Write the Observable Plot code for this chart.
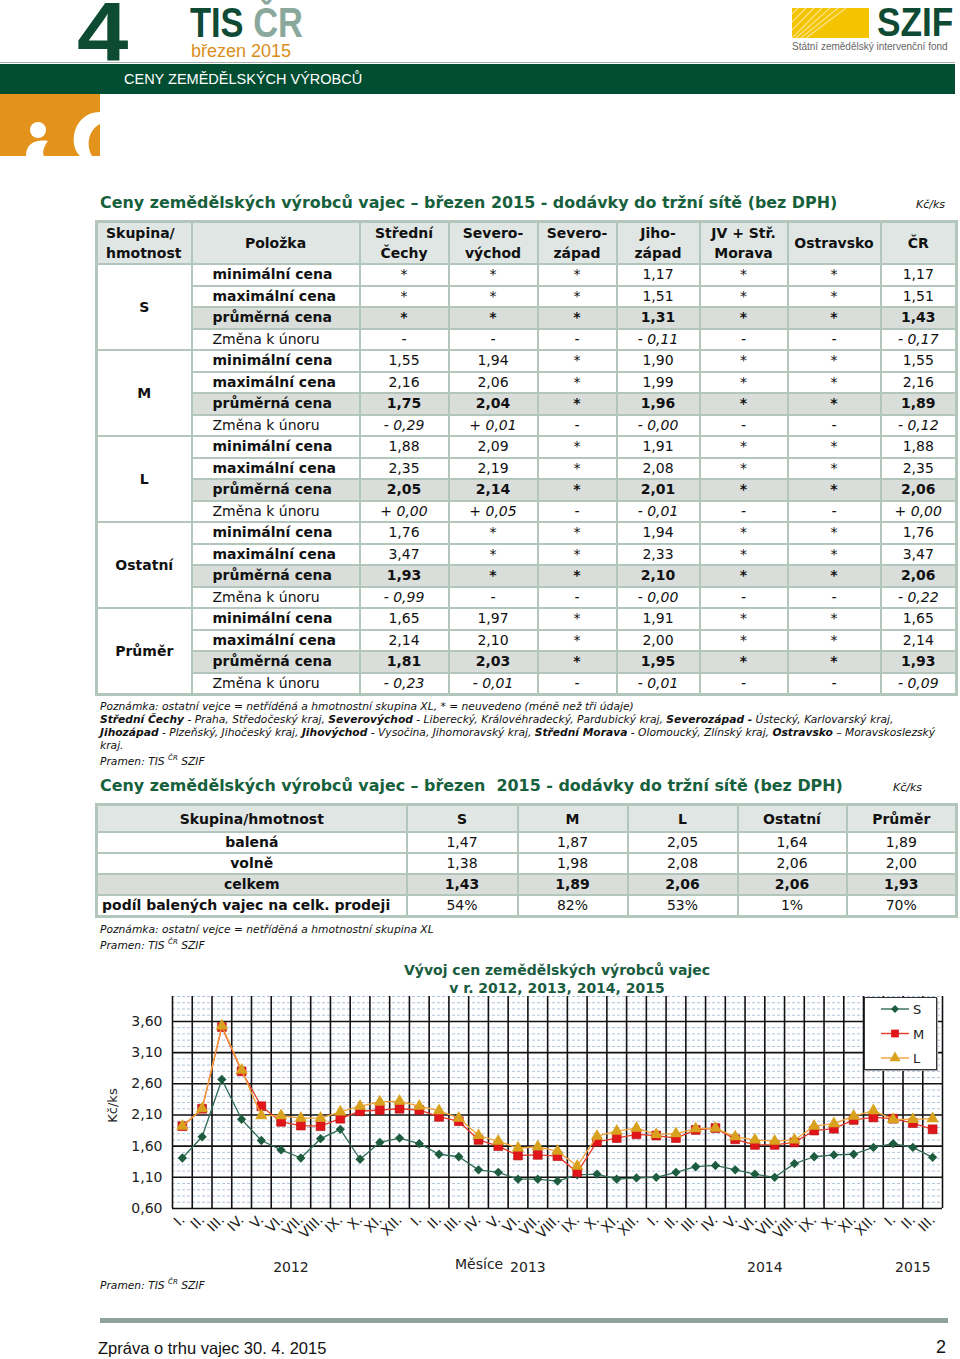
<!DOCTYPE html>
<html><head><meta charset="utf-8">
<script src="https://cdn.jsdelivr.net/npm/d3@7"></script>
<script src="https://cdn.jsdelivr.net/npm/@observablehq/plot@0.6"></script>
<style>
body{margin:0;background:#fff;}
#page{position:relative;width:960px;height:1359px;overflow:hidden;font-family:"DejaVu Sans",Verdana,sans-serif;color:#111;}
.abs{position:absolute;white-space:nowrap;}
.title{font-weight:bold;color:#17603c;font-size:15.9px;line-height:20px;}
.unit{font-style:italic;font-size:11px;}
table{border-collapse:collapse;table-layout:fixed;position:absolute;}
td,th{border:2px solid #b3c6bc;padding:0;text-align:center;overflow:hidden;white-space:nowrap;}
#t1{left:95px;top:220px;width:860px;font-size:14px;border:3px solid #b3c6bc;}
#t1 th{background:#e0e6e3;height:40px;line-height:20px;font-weight:bold;}
#t1 td{height:19.5px;line-height:19px;}
#t1 td.lab{text-align:left;padding-left:20px;}
#t1 tr.avg td{background:#d9dedb;font-weight:bold;}
#t1 tr.avg td.grp{background:#fff;}
#t1 td.grp{font-weight:bold;background:#fff;}
#t1 tr.chg td{font-style:italic;}
#t1 tr.chg td.lab, #t1 tr.chg td.grp{font-style:normal;}
#t1 tr.mm td.lab{font-weight:bold;}
#t2{left:95px;top:803px;width:860px;font-size:14px;border:3px solid #b3c6bc;}
#t2 th{background:#e0e6e3;height:25px;font-weight:bold;}
#t2 td{height:19px;line-height:19px;}
#t2 td.lab{font-weight:bold;}
#t2 tr.avg td{background:#d9dedb;font-weight:bold;}
.note{font-size:10.7px;font-style:italic;line-height:13px;}
sup{font-size:7px;}
</style></head>
<body><div id="page">
<!-- header -->
<div class="abs" style="left:0;top:62px;width:955px;height:1px;background:#9fb0a8"></div>
<div class="abs" style="left:0;top:64px;width:955px;height:30px;background:#004d31"></div>
<div class="abs" style="left:124px;top:70px;color:#fff;font-family:'Liberation Sans',Arial,sans-serif;font-size:14.5px;line-height:18px;">CENY ZEMĚDĚLSKÝCH VÝROBCŮ</div>
<div class="abs" style="left:77px;top:0px;color:#0d4b33;font-family:'Liberation Sans',Arial,sans-serif;font-weight:bold;font-size:84px;line-height:64px;transform:scaleX(1.1);transform-origin:left top;">4</div>
<div class="abs" style="left:190px;top:4px;font-family:'Liberation Sans',Arial,sans-serif;font-weight:bold;font-size:42px;line-height:38px;transform:scaleX(0.82);transform-origin:left top;"><span style="color:#0e4a34">TIS</span> <span style="color:#8aa89c">ČR</span></div>
<div class="abs" style="left:191px;top:42px;color:#d98e1c;font-family:'Liberation Sans',Arial,sans-serif;font-size:18px;line-height:19px;">březen 2015</div>
<svg class="abs" style="left:0;top:94px" width="100" height="62">
<rect width="100" height="62" fill="#e3931c"/>
<circle cx="38" cy="36" r="8" fill="#fff"/>
<path d="M26,62 C26,49 36,45 48,47 C44,52 42,58 44,62 Z" fill="#fff"/>
<path d="M100,18 C82,18 72,34 74,50 C75,56 78,60 80,62 L92,62 C86,52 88,36 100,30 Z" fill="#fff"/>
</svg>
<svg class="abs" style="left:792px;top:8px" width="78" height="31">
<rect width="77" height="30" fill="#f4c400"/>
<g stroke="#fbe48a" stroke-width="1.2">
<line x1="0" y1="30" x2="30" y2="0"/><line x1="4" y1="30" x2="38" y2="0"/><line x1="9" y1="30" x2="46" y2="0"/>
<line x1="14" y1="30" x2="54" y2="0"/><line x1="0" y1="22" x2="22" y2="0"/><line x1="0" y1="14" x2="14" y2="0"/><line x1="0" y1="6" x2="6" y2="0"/>
</g></svg>
<div class="abs" style="left:877px;top:4px;color:#0e4a34;font-family:'Liberation Sans',Arial,sans-serif;font-weight:bold;font-size:41px;line-height:36px;transform:scaleX(0.86);transform-origin:left top;">SZIF</div>
<div class="abs" style="left:792px;top:41px;color:#666;font-family:'Liberation Sans',Arial,sans-serif;font-size:10px;line-height:12px;">Státní zemědělský intervenční fond</div>

<!-- table 1 -->
<div class="abs title" style="left:100px;top:193px;">Ceny zemědělských výrobců vajec – březen 2015 - dodávky do tržní sítě (bez DPH)</div>
<div class="abs unit" style="left:916px;top:198px;">Kč/ks</div>
<table id="t1"></table>
<div class="abs note" style="left:100px;top:700px;">Poznámka: ostatní vejce = netříděná a hmotnostní skupina XL, * = neuvedeno (méně než tři údaje)<br><b>Střední Čechy</b> - Praha, Středočeský kraj, <b>Severovýchod</b> - Liberecký, Královéhradecký, Pardubický kraj, <b>Severozápad -</b> Ústecký, Karlovarský kraj,<br><b>Jihozápad</b> - Plzeňský, Jihočeský kraj, <b>Jihovýchod</b> - Vysočina, Jihomoravský kraj, <b>Střední Morava</b> - Olomoucký, Zlínský kraj, <b>Ostravsko</b> – Moravskoslezský<br>kraj.<br>Pramen: TIS <sup>ČR</sup> SZIF</div>

<!-- table 2 -->
<div class="abs title" style="left:100px;top:776px;">Ceny zemědělských výrobců vajec – březen&nbsp; 2015 - dodávky do tržní sítě (bez DPH)</div>
<div class="abs unit" style="left:893px;top:781px;">Kč/ks</div>
<table id="t2"></table>
<div class="abs note" style="left:100px;top:923px;">Poznámka: ostatní vejce = netříděná a hmotnostní skupina XL<br>Pramen: TIS <sup>ČR</sup> SZIF</div>

<!-- chart -->
<div id="chart" class="abs" style="left:95px;top:955px;"></div>
<div class="abs" style="left:357px;top:961px;width:400px;text-align:center;font-weight:bold;color:#1a5c3f;font-size:14px;line-height:18px;">Vývoj cen zemědělských výrobců vajec<br>v r. 2012, 2013, 2014, 2015</div>
<div class="abs" style="left:92px;top:1098px;width:40px;text-align:center;font-size:13px;transform:rotate(-90deg);color:#222;">Kč/ks</div>
<div class="abs" style="left:455px;top:1256px;font-size:14px;color:#222;">Měsíce</div>
<div id="legend" class="abs" style="left:864px;top:997px;width:71px;height:71px;border:1px solid #333;background:#fff;box-shadow:1px 1px 0 #aaa;"></div>
<div class="abs note" style="left:100px;top:1276px;">Pramen: TIS <sup>ČR</sup> SZIF</div>

<!-- footer -->
<div class="abs" style="left:100px;top:1318px;width:848px;height:5px;background:#8fa39a"></div>
<div class="abs" style="left:98px;top:1339px;font-family:'Liberation Sans',Arial,sans-serif;font-size:16.5px;">Zpráva o trhu vajec 30. 4. 2015</div>
<div class="abs" style="left:936px;top:1337px;font-family:'Liberation Sans',Arial,sans-serif;font-size:18px;">2</div>
</div>
<script>
// ---------- Table 1 data ----------
const regions = ["Střední<br>Čechy","Severo-<br>východ","Severo-<br>západ","Jiho-<br>západ","JV + Stř.<br>Morava","Ostravsko","ČR"];
const groups = ["S","M","L","Ostatní","Průměr"];
const items = ["minimální cena","maximální cena","průměrná cena","Změna k únoru"];
const t1S = [
  ["*","*","*","1,17","*","*","1,17"],
  ["*","*","*","1,51","*","*","1,51"],
  ["*","*","*","1,31","*","*","1,43"],
  ["-","-","-","- 0,11","-","-","- 0,17"]];
const t1M = [
  ["1,55","1,94","*","1,90","*","*","1,55"],
  ["2,16","2,06","*","1,99","*","*","2,16"],
  ["1,75","2,04","*","1,96","*","*","1,89"],
  ["- 0,29","+ 0,01","-","- 0,00","-","-","- 0,12"]];
const t1L = [
  ["1,88","2,09","*","1,91","*","*","1,88"],
  ["2,35","2,19","*","2,08","*","*","2,35"],
  ["2,05","2,14","*","2,01","*","*","2,06"],
  ["+ 0,00","+ 0,05","-","- 0,01","-","-","+ 0,00"]];
const t1O = [
  ["1,76","*","*","1,94","*","*","1,76"],
  ["3,47","*","*","2,33","*","*","3,47"],
  ["1,93","*","*","2,10","*","*","2,06"],
  ["- 0,99","-","-","- 0,00","-","-","- 0,22"]];
const t1P = [
  ["1,65","1,97","*","1,91","*","*","1,65"],
  ["2,14","2,10","*","2,00","*","*","2,14"],
  ["1,81","2,03","*","1,95","*","*","1,93"],
  ["- 0,23","- 0,01","-","- 0,01","-","-","- 0,09"]];
const t1Data = [t1S,t1M,t1L,t1O,t1P];

// ---------- Table 2 data ----------
const t2Cols = ["S","M","L","Ostatní","Průměr"];
const t2Rows = ["balená","volně","celkem","podíl balených vajec na celk. prodeji"];
const t2Balena = ["1,47","1,87","2,05","1,64","1,89"];
const t2Volne = ["1,38","1,98","2,08","2,06","2,00"];
const t2Celkem = ["1,43","1,89","2,06","2,06","1,93"];
const t2Podil = ["54%","82%","53%","1%","70%"];

// ---------- Chart data ----------
const monthLabels = ["I.","II.","III.","IV.","V.","VI.","VII.","VIII.","IX.","X.","XI.","XII.",
  "I.","II.","III.","IV.","V.","VI.","VII.","VIII.","IX.","X.","XI.","XII.",
  "I.","II.","III.","IV.","V.","VI.","VII.","VIII.","IX.","X.","XI.","XII.",
  "I.","II.","III."];
const monthYears = [2012,2012,2012,2012,2012,2012,2012,2012,2012,2012,2012,2012,
  2013,2013,2013,2013,2013,2013,2013,2013,2013,2013,2013,2013,
  2014,2014,2014,2014,2014,2014,2014,2014,2014,2014,2014,2014,
  2015,2015,2015];
const seriesS = [1.41,1.75,2.67,2.03,1.69,1.54,1.41,1.72,1.87,1.39,1.66,1.73,
  1.64,1.47,1.43,1.22,1.18,1.07,1.07,1.04,1.14,1.15,1.07,1.09,
  1.10,1.18,1.27,1.29,1.22,1.15,1.10,1.32,1.43,1.46,1.47,1.58,
  1.64,1.58,1.42];
const seriesM = [1.92,2.20,3.51,2.80,2.24,1.99,1.93,1.92,2.04,2.16,2.18,2.20,
  2.18,2.07,2.00,1.70,1.60,1.45,1.46,1.44,1.18,1.67,1.73,1.79,
  1.77,1.73,1.86,1.89,1.71,1.62,1.62,1.66,1.85,1.88,2.02,2.06,
  2.04,1.97,1.87];
const seriesL = [1.92,2.20,3.53,2.82,2.09,2.09,2.05,2.05,2.15,2.24,2.31,2.32,
  2.24,2.17,2.05,1.77,1.68,1.57,1.59,1.52,1.28,1.76,1.84,1.89,
  1.79,1.80,1.88,1.89,1.75,1.70,1.68,1.70,1.92,1.96,2.08,2.17,
  2.03,2.03,2.04];
const yTicks = [0.6,1.1,1.6,2.1,2.6,3.1,3.6];
const seriesNames = ["S","M","L"];

// ---------- build table 1 ----------
{
  const t = document.getElementById("t1");
  let h = `<colgroup><col style="width:95px"><col style="width:168px"><col style="width:89px"><col style="width:89px"><col style="width:79px"><col style="width:83px"><col style="width:88px"><col style="width:93px"><col style="width:76px"></colgroup>`;
  h += `<tr><th style="text-align:left;padding-left:8px">Skupina/<br>hmotnost</th><th>Položka</th>` + regions.map(r=>`<th>${r}</th>`).join("") + `</tr>`;
  groups.forEach((g,gi)=>{
    items.forEach((it,ii)=>{
      const cls = ii===2?"avg":ii===3?"chg":"mm";
      h += `<tr class="${cls}">`;
      if(ii===0) h += `<td class="grp" rowspan="4">${g}</td>`;
      h += `<td class="lab">${it}</td>` + t1Data[gi][ii].map(v=>`<td>${v}</td>`).join("") + `</tr>`;
    });
  });
  t.innerHTML = h;
}
// ---------- build table 2 ----------
{
  const t = document.getElementById("t2");
  const rows = [t2Balena,t2Volne,t2Celkem,t2Podil];
  let h = `<colgroup><col style="width:310px"><col style="width:111px"><col style="width:110px"><col style="width:110px"><col style="width:109px"><col style="width:110px"></colgroup>`;
  h += `<tr><th>Skupina/hmotnost</th>` + t2Cols.map(c=>`<th>${c}</th>`).join("") + `</tr>`;
  rows.forEach((r,ri)=>{
    h += `<tr class="${ri===2?"avg":""}"><td class="lab" style="${ri===3?"text-align:left;padding-left:4px":""}">${t2Rows[ri]}</td>` + r.map(v=>`<td>${v}</td>`).join("") + `</tr>`;
  });
  t.innerHTML = h;
}

// ---------- chart ----------
const idx = d3.range(monthLabels.length);
const recs = seriesNames.flatMap((s,si)=>{
  const vals = [seriesS,seriesM,seriesL][si];
  return vals.map((v,i)=>({series:s,i,v}));
});
const yMin = 0.6, yMax = 4.0;
const minor = d3.range(7,41).map(k=>k/10).filter(v=>!yTicks.some(t=>Math.abs(t-v)<1e-9));
const bounds = d3.range(monthLabels.length+1).map(k=>k-0.5);
const yearGroups = d3.groups(idx, i=>monthYears[i]).map(([y,arr])=>({year:String(y), x:d3.mean(arr)}));
const colors = {S:"#1e5c40", M:"#e0161a", L:"#d8a21e"};
const lineColors = {S:"#2f6c55", M:"#e83a2a", L:"#f2a33a"};
const fmt = d=>d.toFixed(2).replace(".",",");

const chart = Plot.plot({
  width: 860, height: 330,
  marginLeft: 77, marginRight: 13, marginTop: 41, marginBottom: 77,
  style: {fontFamily:"DejaVu Sans, Verdana, sans-serif", fontSize:"14px", color:"#222", background:"transparent"},
  x: {type:"linear", domain:[-0.5, monthLabels.length-0.5], axis:null},
  y: {domain:[yMin,yMax], axis:null},
  marks: [
    Plot.ruleY(minor, {stroke:"#b0c2dc", strokeWidth:1, strokeDasharray:"3,2"}),
    Plot.ruleX(bounds, {y1:yMin, y2:yMax, stroke:"#111", strokeWidth:1.6}),
    Plot.ruleY(yTicks, {stroke:"#111", strokeWidth:1.6}),
    Plot.axisY(yTicks, {tickSize:0, tickPadding:10, tickFormat:fmt, fontSize:14, label:null}),
    Plot.axisX(idx, {tickSize:0, tickPadding:9, tickRotate:-45, tickFormat:i=>monthLabels[i], fontSize:14, label:null}),
    Plot.text(yearGroups, {x:"x", text:"year", frameAnchor:"bottom", dy:63, fontSize:14, fill:"#222"}),
    Plot.line(recs.filter(d=>d.series==="S"), {x:"i", y:"v", stroke:lineColors.S, strokeWidth:1.3}),
    Plot.dot(recs.filter(d=>d.series==="S"), {x:"i", y:"v", symbol:"diamond2", r:4.2, fill:colors.S, stroke:"none"}),
    Plot.line(recs.filter(d=>d.series==="M"), {x:"i", y:"v", stroke:lineColors.M, strokeWidth:1.3}),
    Plot.dot(recs.filter(d=>d.series==="M"), {x:"i", y:"v", symbol:"square", r:5, fill:colors.M, stroke:"#b01010", strokeWidth:0.6}),
    Plot.line(recs.filter(d=>d.series==="L"), {x:"i", y:"v", stroke:lineColors.L, strokeWidth:1.3}),
    Plot.dot(recs.filter(d=>d.series==="L"), {x:"i", y:"v", symbol:"triangle", r:4.6, fill:colors.L, stroke:"none"})
  ]
});
document.getElementById("chart").appendChild(chart);

// legend
{
  const sym = {S:d3.symbolDiamond2, M:d3.symbolSquare, L:d3.symbolTriangle};
  const sz = {S:40, M:60, L:55};
  let s = `<svg width="71" height="71">`;
  seriesNames.forEach((n,k)=>{
    const y = 11 + k*24.5;
    s += `<line x1="16" x2="44" y1="${y}" y2="${y}" stroke="${lineColors[n]}" stroke-width="1.4"/>`;
    s += `<path transform="translate(30,${y})" d="${d3.symbol(sym[n], sz[n])()}" fill="${colors[n]}"/>`;
    s += `<text x="48" y="${y+5}" font-size="13" font-family="DejaVu Sans" fill="#222">${n}</text>`;
  });
  s += `</svg>`;
  document.getElementById("legend").innerHTML = s;
}
</script>
</body></html>
